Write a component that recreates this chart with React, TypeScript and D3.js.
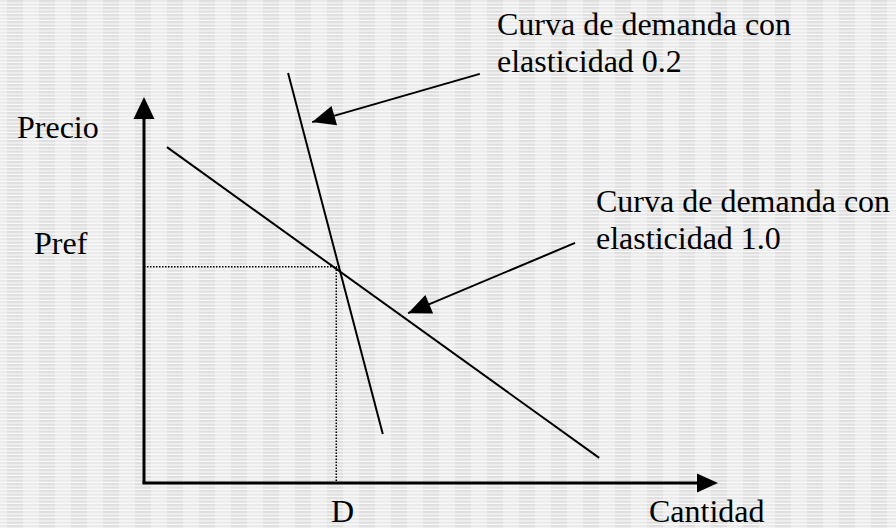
import React from "react";
import * as d3 from "d3";

const W = 896;
const H = 528;

// Axis domain (abstract units)
const xDomain: [number, number] = [0, 100];
const yDomain: [number, number] = [0, 100];

// Demand curves (quantity, price)
const demandElastic1: [number, number][] = [[4.0, 87.0], [79.3, 6.5]];
const demandElastic02: [number, number][] = [[25.1, 106.2], [41.6, 12.7]];

// Reference point
const refQuantity = 33.5;
const refPrice = 56.0;

// Annotation arrows: [from, to]
const arrowTo02: [number, number][] = [[58.5, 106.0], [29.3, 93.5]];
const arrowTo10: [number, number][] = [[75.1, 62.2], [46.0, 44.0]];

const labelsTop = ["Curva de demanda con", "elasticidad 0.2"];
const labelsMid = ["Curva de demanda con", "elasticidad 1.0"];
const axisLabels = { y: "Precio", x: "Cantidad", pref: "Pref", d: "D" };

const FONT = "'Liberation Serif', 'Times New Roman', serif";

function arrowHead(tip: [number, number], from: [number, number], len: number, half: number) {
  const dx = tip[0] - from[0];
  const dy = tip[1] - from[1];
  const L = Math.hypot(dx, dy);
  const ux = dx / L, uy = dy / L;
  const bx = tip[0] - ux * len, by = tip[1] - uy * len;
  const px = -uy, py = ux;
  return `M${tip[0]},${tip[1]}L${bx + px * half},${by + py * half}L${bx - px * half},${by - py * half}Z`;
}

export default function App() {
  const x = d3.scaleLinear().domain(xDomain).range([144, 718]);
  const y = d3.scaleLinear().domain(yDomain).range([483, 97]);
  const line = d3.line<[number, number]>().x(d => x(d[0])).y(d => y(d[1]));

  const x0 = x(0), y0 = y(0);
  const xEnd = x(xDomain[1]);
  const yEnd = y(yDomain[1]);

  const a1from: [number, number] = [x(arrowTo02[0][0]), y(arrowTo02[0][1])];
  const a1to: [number, number] = [x(arrowTo02[1][0]), y(arrowTo02[1][1])];
  const a2from: [number, number] = [x(arrowTo10[0][0]), y(arrowTo10[0][1])];
  const a2to: [number, number] = [x(arrowTo10[1][0]), y(arrowTo10[1][1])];

  return (
    <svg width={W} height={H} style={{ position: "absolute", left: 0, top: 0 }}>
      <defs>
        <pattern id="bands" width={32} height={3.5} patternUnits="userSpaceOnUse" x={7} y={0}>
          <rect x={0} y={0} width={16} height={3.5} fill="#dedede" />
          <rect x={16} y={0} width={16} height={3.5} fill="#ebebeb" />
          <rect x={0} y={2.3} width={32} height={1.2} fill="#fafafa" />
        </pattern>
      </defs>
      <rect x={0} y={0} width={W} height={H} fill="url(#bands)" />

      {/* reference dotted lines */}
      <path
        d={`M${x0},${y(refPrice)}H${x(refQuantity)}V${y0}`}
        fill="none"
        stroke="#000"
        strokeWidth={1.5}
        strokeDasharray="1.5,1.5"
      />

      {/* demand curves */}
      <path d={line(demandElastic1) || ""} fill="none" stroke="#000" strokeWidth={2} />
      <path d={line(demandElastic02) || ""} fill="none" stroke="#000" strokeWidth={2} />

      {/* axes */}
      <line x1={x0} y1={y0} x2={x0} y2={yEnd + 18} stroke="#000" strokeWidth={3} />
      <path d={arrowHead([x0, yEnd], [x0, y0], 22, 10.5)} fill="#000" />
      <line x1={x0 - 1.5} y1={y0} x2={xEnd - 18} y2={y0} stroke="#000" strokeWidth={3} />
      <path d={arrowHead([xEnd, y0], [x0, y0], 21, 9.5)} fill="#000" />

      {/* annotation arrows */}
      <line x1={a1from[0]} y1={a1from[1]} x2={a1to[0]} y2={a1to[1]} stroke="#000" strokeWidth={2} />
      <path d={arrowHead(a1to, a1from, 23, 10)} fill="#000" />
      <line x1={a2from[0]} y1={a2from[1]} x2={a2to[0]} y2={a2to[1]} stroke="#000" strokeWidth={2} />
      <path d={arrowHead(a2to, a2from, 23, 10)} fill="#000" />

      {/* text */}
      <g fontFamily={FONT} fontSize={32} fill="#000">
        <text x={497} y={35}>{labelsTop[0]}</text>
        <text x={497} y={72}>{labelsTop[1]}</text>
        <text x={596} y={212}>{labelsMid[0]}</text>
        <text x={596} y={249}>{labelsMid[1]}</text>
        <text x={17} y={138}>{axisLabels.y}</text>
        <text x={34} y={254}>{axisLabels.pref}</text>
        <text x={331} y={522}>{axisLabels.d}</text>
        <text x={649} y={522}>{axisLabels.x}</text>
      </g>
    </svg>
  );
}
